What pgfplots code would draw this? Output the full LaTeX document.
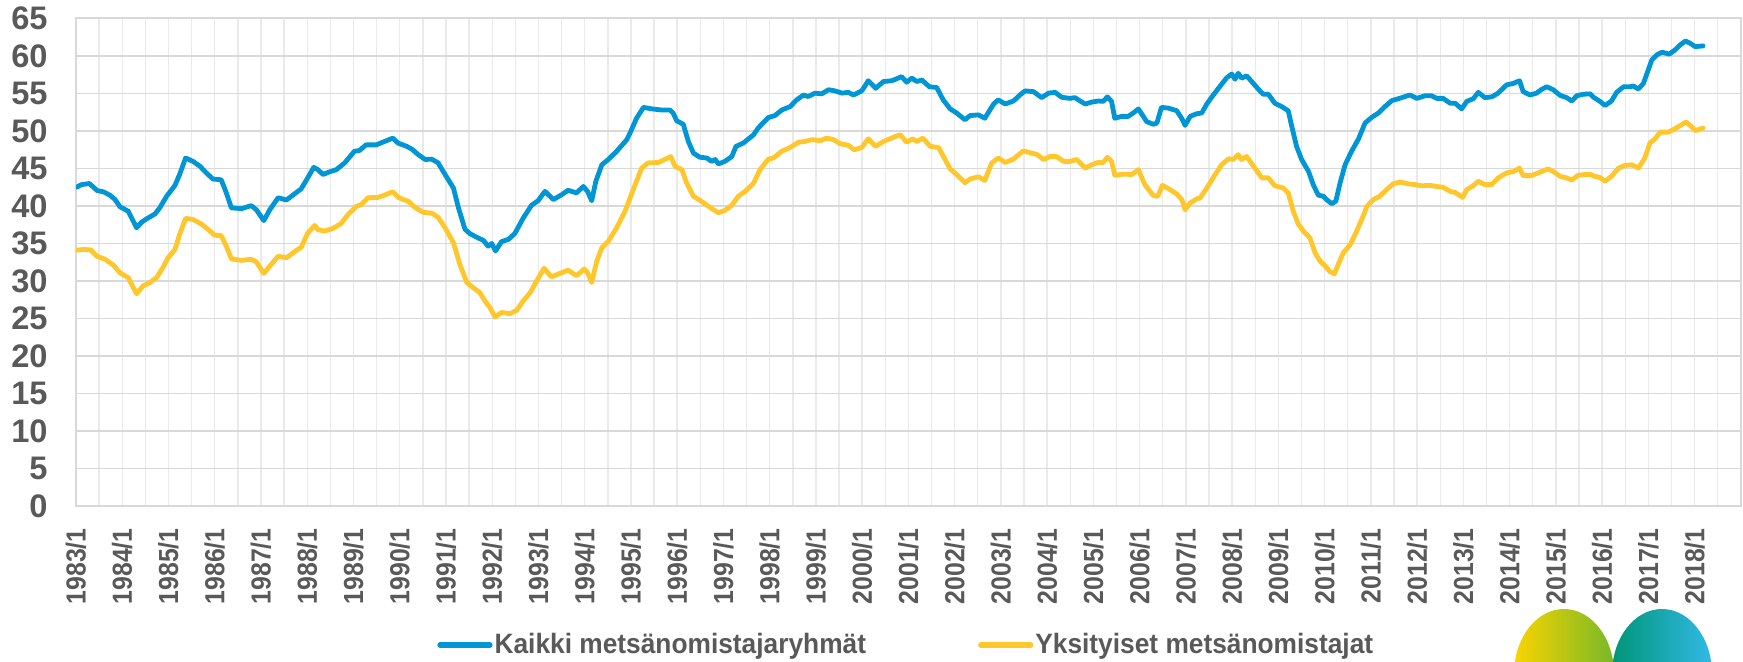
\documentclass[border=0pt]{standalone}
\usepackage{fontspec}
\setmainfont{Liberation Sans}
\newfontfamily\xlabfont{Liberation Sans}[FakeStretch=0.9]
\newfontfamily\legfont{Liberation Sans}[FakeStretch=0.94]
\usepackage{pgfplots}
\pgfplotsset{compat=1.18}
\definecolor{cblue}{RGB}{0,150,214}
\definecolor{cyel}{RGB}{255,199,44}
\definecolor{ctext}{RGB}{89,89,89}
\definecolor{hgrid}{RGB}{217,217,217}
\definecolor{vgrid}{RGB}{234,234,234}
\definecolor{logoY}{RGB}{250,212,0}
\definecolor{logoG}{RGB}{120,184,40}
\definecolor{logoT}{RGB}{0,150,120}
\definecolor{logoB}{RGB}{50,185,230}
\begin{document}
\begin{tikzpicture}
\useasboundingbox (-38bp,-78bp) rectangle (833.5bp,253bp);
\begin{scope}
\clip (-38bp,-78bp) rectangle (833.5bp,253bp);
\shade[left color=logoY, right color=logoG] (744bp,-84bp) ellipse [x radius=25bp, y radius=32.5bp];
\shade[left color=logoT, right color=logoB] (793bp,-84bp) ellipse [x radius=25bp, y radius=32.5bp];
\end{scope}
\begin{axis}[
  scale only axis, width=832.5bp, height=243.75bp,
  at={(0,0)}, anchor=south west,
  xmin=1983, xmax=2019, ymin=0, ymax=65,
  xtick={1983,1984,...,2018},
  xticklabels={1983/1,1984/1,1985/1,1986/1,1987/1,1988/1,1989/1,1990/1,1991/1,1992/1,1993/1,1994/1,1995/1,1996/1,1997/1,1998/1,1999/1,2000/1,2001/1,2002/1,2003/1,2004/1,2005/1,2006/1,2007/1,2008/1,2009/1,2010/1,2011/1,2012/1,2013/1,2014/1,2015/1,2016/1,2017/1,2018/1},
  minor xtick={1983.5,1984.5,...,2018.5},
  ytick={0,5,...,65},
  xmajorgrids, xminorgrids, ymajorgrids,
  x grid style={vgrid, line width=0.7bp},
  y grid style={hgrid, line width=0.7bp},
  axis line style={hgrid, line width=1bp},
  major tick length=0pt, minor tick length=0pt,
  /pgf/number format/assume math mode=true,
  yticklabel style={font=\bfseries\fontsize{16.3bp}{19bp}\selectfont, text=ctext, anchor=east, inner sep=0pt, xshift=-14bp},
  xticklabel style={font=\xlabfont\bfseries\fontsize{13.8bp}{16bp}\selectfont, text=ctext, yshift=-11bp, rotate=90, anchor=east, inner sep=0pt},
  legend columns=2,
  legend cell align=left,
  legend style={at={(0.2168,-0.2851)}, anchor=west, draw=none, fill=none, inner sep=0pt,
    font=\legfont\bfseries\fontsize{14bp}{17bp}\selectfont, text=ctext,
    nodes={inner sep=1bp},
    /tikz/every even column/.append style={column sep=55bp}},
  legend image code/.code={\draw[#1, line width=2.6bp, line cap=round] (0bp,0bp) -- (25bp,0bp);},
  every axis plot/.append style={line width=2.4bp, line join=round, line cap=round},
]
\addplot[cblue, mark=none] coordinates {
(1983.01,42.5)(1983.12,42.85)(1983.29,43.0)(1983.36,42.6)(1983.46,42.05)(1983.59,41.9)(1983.73,41.45)(1983.84,40.9)(1983.95,39.9)(1984.13,39.3)(1984.22,38.2)(1984.31,37.1)(1984.42,37.85)(1984.53,38.3)(1984.71,38.95)(1984.81,39.75)(1984.96,41.3)(1985.14,42.75)(1985.24,44.2)(1985.37,46.4)(1985.53,45.95)(1985.68,45.3)(1985.82,44.4)(1985.96,43.6)(1986.14,43.5)(1986.25,41.75)(1986.36,39.75)(1986.58,39.65)(1986.79,40.05)(1986.90,39.5)(1987.06,38.05)(1987.19,39.5)(1987.37,41.1)(1987.55,40.8)(1987.69,41.45)(1987.87,42.3)(1988.01,43.75)(1988.14,45.15)(1988.23,44.85)(1988.34,44.2)(1988.48,44.55)(1988.63,44.85)(1988.81,45.75)(1989.02,47.3)(1989.13,47.4)(1989.27,48.15)(1989.49,48.15)(1989.67,48.6)(1989.85,49.05)(1989.96,48.4)
(1990.15,47.95)(1990.26,47.6)(1990.40,46.85)(1990.55,46.2)(1990.69,46.25)(1990.83,45.75)(1990.94,44.6)(1991.05,43.5)(1991.16,42.4)(1991.27,39.75)(1991.41,36.9)(1991.52,36.3)(1991.66,35.85)(1991.81,35.4)(1991.91,34.65)(1991.99,35.0)(1992.07,34.0)(1992.20,35.25)(1992.35,35.55)(1992.49,36.35)(1992.67,38.4)(1992.85,40.1)(1992.99,40.7)(1993.14,41.95)(1993.32,40.85)(1993.50,41.5)(1993.64,42.1)(1993.82,41.75)(1993.97,42.6)(1994.06,41.95)(1994.15,40.7)(1994.24,43.3)(1994.37,45.5)(1994.51,46.2)(1994.69,47.3)(1994.91,48.85)(1995.01,50.15)(1995.12,51.7)(1995.27,53.15)(1995.45,52.95)(1995.66,52.8)(1995.84,52.8)(1995.91,52.4)(1995.99,51.35)(1996.13,50.9)(1996.24,48.6)(1996.35,47.05)(1996.49,46.5)(1996.64,46.4)(1996.74,45.95)(1996.82,46.2)(1996.89,45.6)(1997.03,45.95)(1997.18,46.6)
(1997.27,47.95)(1997.43,48.4)(1997.65,49.5)(1997.75,50.4)(1997.97,51.8)(1998.11,52.05)(1998.26,52.8)(1998.44,53.25)(1998.58,54.15)(1998.73,54.8)(1998.83,54.6)(1998.98,55.05)(1999.12,54.95)(1999.27,55.5)(1999.41,55.35)(1999.56,55.05)(1999.70,55.15)(1999.81,54.8)(1999.99,55.35)(2000.13,56.7)(2000.29,55.7)(2000.46,56.6)(2000.64,56.7)(2000.74,56.95)(2000.85,57.25)(2000.96,56.5)(2001.07,57.05)(2001.18,56.6)(2001.29,56.8)(2001.45,55.9)(2001.61,55.8)(2001.75,54.15)(2001.90,52.95)(2002.04,52.4)(2002.22,51.5)(2002.33,52.05)(2002.51,52.15)(2002.65,51.7)(2002.84,53.6)(2002.94,54.15)(2003.09,53.6)(2003.27,54.0)(2003.41,54.8)(2003.52,55.35)(2003.70,55.25)(2003.88,54.45)(2004.03,55.05)(2004.17,55.15)(2004.31,54.5)
(2004.49,54.35)(2004.60,54.45)(2004.71,54.0)(2004.82,53.6)(2004.96,53.85)(2005.10,54.0)(2005.21,53.95)(2005.30,54.55)(2005.39,53.95)(2005.46,51.7)(2005.61,51.95)(2005.75,51.95)(2005.86,52.4)(2005.97,52.95)(2006.15,51.25)(2006.29,50.9)(2006.37,51.05)(2006.47,53.15)(2006.62,53.05)(2006.80,52.7)(2006.91,51.65)(2006.98,50.75)(2007.09,51.95)(2007.23,52.3)(2007.34,52.4)(2007.45,53.6)(2007.59,54.8)(2007.74,56.0)(2007.88,57.1)(2007.99,57.6)(2008.06,56.9)(2008.13,57.7)(2008.20,57.05)(2008.31,57.35)(2008.42,56.6)(2008.56,55.6)(2008.67,54.9)(2008.78,54.9)(2008.92,53.7)(2009.07,53.25)(2009.21,52.7)(2009.28,50.8)(2009.39,47.95)(2009.50,46.2)(2009.65,44.6)(2009.75,42.85)(2009.86,41.45)(2009.97,41.3)(2010.04,40.85)(2010.15,40.3)(2010.24,40.65)(2010.33,43.05)(2010.44,45.5)(2010.58,47.3)(2010.73,48.95)(2010.87,51.05)(2011.01,51.8)(2011.16,52.4)(2011.30,53.25)(2011.45,54.05)(2011.59,54.3)
(2011.74,54.6)(2011.84,54.8)(2011.99,54.35)(2012.17,54.7)(2012.31,54.7)(2012.42,54.35)(2012.56,54.35)(2012.71,53.7)(2012.82,53.7)(2012.96,52.95)(2013.07,53.95)(2013.21,54.3)(2013.32,55.15)(2013.46,54.45)(2013.61,54.55)(2013.75,55.05)(2013.93,56.15)(2014.08,56.35)(2014.21,56.7)(2014.29,55.25)(2014.44,54.8)(2014.58,55.05)(2014.69,55.55)(2014.80,55.9)(2014.94,55.5)(2015.09,54.75)(2015.23,54.45)(2015.34,54.0)(2015.45,54.7)(2015.59,54.9)(2015.74,54.95)(2015.81,54.5)(2015.95,53.95)(2016.06,53.4)(2016.20,54.0)(2016.31,55.15)(2016.46,55.9)(2016.60,55.9)(2016.67,56.0)(2016.78,55.6)(2016.89,56.35)(2016.98,57.9)(2017.07,59.45)(2017.18,60.15)(2017.29,60.5)(2017.45,60.25)(2017.57,60.8)(2017.68,61.45)(2017.80,62.0)(2017.90,61.7)(2018.01,61.25)(2018.18,61.35)
};
\addlegendentry{Kaikki metsänomistajaryhmät}
\addplot[cyel, mark=none] coordinates {
(1983.01,34.1)(1983.16,34.2)(1983.32,34.15)(1983.45,33.3)(1983.63,32.9)(1983.81,32.1)(1983.95,31.1)(1984.13,30.45)(1984.22,29.35)(1984.31,28.3)(1984.45,29.35)(1984.60,29.8)(1984.74,30.45)(1984.88,31.8)(1984.99,33.1)(1985.14,34.2)(1985.24,36.2)(1985.37,38.35)(1985.53,38.2)(1985.71,37.6)(1985.86,36.85)(1986.0,36.1)(1986.14,36.05)(1986.25,34.65)(1986.36,32.95)(1986.58,32.75)(1986.79,32.9)(1986.90,32.55)(1987.06,31.0)(1987.22,32.2)(1987.37,33.3)(1987.55,33.1)(1987.69,33.75)(1987.87,34.5)(1988.01,36.4)(1988.16,37.4)(1988.23,36.85)(1988.37,36.65)(1988.55,37.0)(1988.73,37.65)(1988.88,38.85)(1989.06,39.95)(1989.17,40.2)(1989.31,41.1)(1989.53,41.15)(1989.67,41.45)(1989.85,41.9)(1989.98,41.1)
(1990.19,40.6)(1990.33,39.8)(1990.51,39.15)(1990.69,39.05)(1990.83,38.5)(1990.98,37.1)(1991.16,35.1)(1991.30,32.2)(1991.45,29.8)(1991.59,29.1)(1991.73,28.45)(1991.84,27.35)(1991.95,26.45)(1992.06,25.2)(1992.20,25.8)(1992.38,25.65)(1992.53,26.1)(1992.67,27.35)(1992.82,28.45)(1992.96,30.0)(1993.12,31.7)(1993.28,30.55)(1993.46,31.0)(1993.64,31.45)(1993.82,30.7)(1993.99,31.6)(1994.06,31.1)(1994.15,29.8)(1994.26,32.65)(1994.37,34.45)(1994.51,35.3)(1994.69,37.1)(1994.87,39.3)(1995.05,42.2)(1995.23,45.05)(1995.37,45.75)(1995.59,45.8)(1995.73,46.2)(1995.86,46.6)(1995.95,45.3)(1996.10,44.85)(1996.20,43.1)(1996.35,41.3)(1996.53,40.6)(1996.71,39.8)(1996.89,39.1)(1997.03,39.4)(1997.18,40.1)
(1997.32,41.3)(1997.47,41.95)(1997.65,43.05)(1997.79,44.85)(1997.97,46.25)(1998.08,46.4)(1998.26,47.3)(1998.44,47.8)(1998.62,48.5)(1998.76,48.6)(1998.91,48.85)(1999.09,48.7)(1999.23,49.05)(1999.38,48.85)(1999.52,48.3)(1999.70,48.1)(1999.82,47.5)(1999.99,47.8)(2000.13,48.95)(2000.29,47.95)(2000.46,48.6)(2000.67,49.15)(2000.82,49.5)(2000.96,48.5)(2001.09,48.95)(2001.18,48.6)(2001.31,49.05)(2001.47,47.95)(2001.65,47.8)(2001.79,46.2)(2001.90,44.95)(2002.04,44.2)(2002.22,43.1)(2002.33,43.6)(2002.51,43.9)(2002.65,43.4)(2002.80,45.75)(2002.94,46.4)(2003.09,45.8)(2003.27,46.25)(2003.48,47.35)(2003.66,47.05)(2003.77,46.9)(2003.92,46.2)(2004.06,46.6)(2004.20,46.6)(2004.35,45.95)
(2004.49,45.95)(2004.64,46.2)(2004.82,45.05)(2004.96,45.5)(2005.10,45.8)(2005.21,45.8)(2005.30,46.5)(2005.39,45.95)(2005.46,44.1)(2005.65,44.25)(2005.83,44.2)(2005.97,44.85)(2006.11,42.85)(2006.29,41.4)(2006.39,41.3)(2006.49,42.75)(2006.65,42.2)(2006.80,41.6)(2006.91,40.85)(2006.98,39.5)(2007.09,40.4)(2007.23,40.95)(2007.30,41.05)(2007.45,42.4)(2007.63,44.2)(2007.77,45.5)(2007.92,46.3)(2008.02,46.2)(2008.13,46.85)(2008.20,46.2)(2008.31,46.6)(2008.46,45.3)(2008.64,43.75)(2008.78,43.75)(2008.92,42.7)(2009.10,42.4)(2009.21,41.75)(2009.32,39.3)(2009.43,37.55)(2009.54,36.65)(2009.68,35.75)(2009.79,33.75)(2009.90,32.65)(2010.01,32.0)(2010.11,31.25)(2010.21,30.95)(2010.29,32.2)(2010.40,33.75)(2010.55,34.85)(2010.69,36.65)(2010.83,38.65)(2010.91,39.95)(2011.05,40.85)(2011.19,41.3)(2011.34,42.2)(2011.48,42.95)(2011.63,43.2)
(2011.81,42.95)(2011.95,42.85)(2012.10,42.7)(2012.28,42.75)(2012.42,42.6)(2012.56,42.5)(2012.71,41.95)(2012.82,41.8)(2012.98,41.15)(2013.07,42.2)(2013.21,42.7)(2013.32,43.3)(2013.46,42.85)(2013.61,42.85)(2013.75,43.75)(2013.93,44.4)(2014.08,44.6)(2014.21,45.05)(2014.29,44.05)(2014.47,44.05)(2014.65,44.5)(2014.83,44.95)(2014.94,44.6)(2015.09,43.95)(2015.23,43.75)(2015.34,43.45)(2015.48,44.1)(2015.63,44.2)(2015.74,44.2)(2015.84,43.95)(2015.95,43.8)(2016.06,43.3)(2016.20,43.95)(2016.35,45.05)(2016.49,45.4)(2016.64,45.5)(2016.78,45.05)(2016.92,46.4)(2017.03,48.4)(2017.14,48.95)(2017.25,49.85)(2017.43,49.85)(2017.57,50.3)(2017.72,50.85)(2017.81,51.2)(2017.90,50.75)(2018.01,50.05)(2018.18,50.4)
};
\addlegendentry{Yksityiset metsänomistajat}
\end{axis}
\end{tikzpicture}
\end{document}
